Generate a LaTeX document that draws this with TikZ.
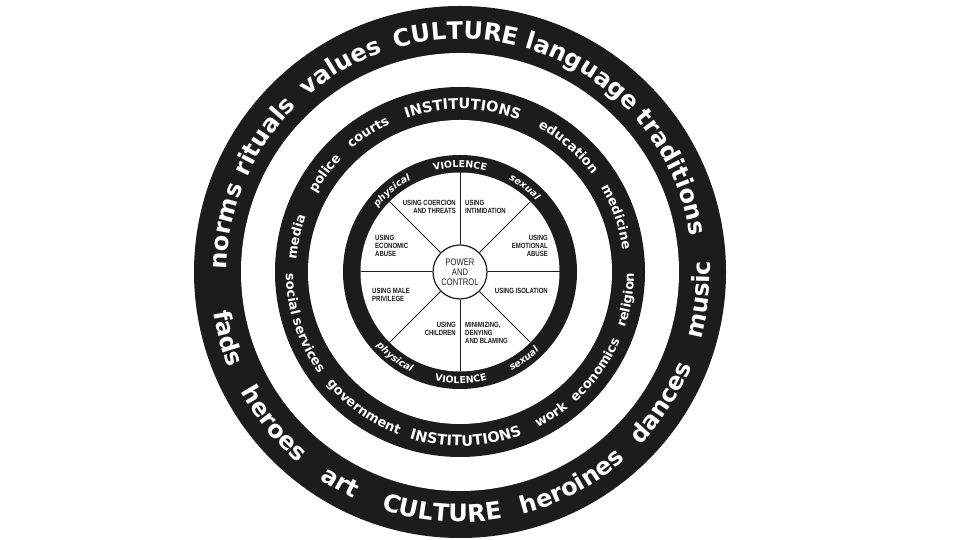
\documentclass[tikz,border=0pt]{standalone}
\usepackage{fontspec}
\setmainfont{DejaVu Sans}
\newfontfamily\labelfont[FakeStretch=0.8]{Liberation Sans}
\usetikzlibrary{decorations.text}
\definecolor{ringgray}{RGB}{28,28,28}

\newcommand\cultfont{\fontsize{24}{24}\selectfont\bfseries}
\newcommand\instfont{\fontsize{14.5}{14.5}\selectfont\bfseries}
\newcommand\orgfont{\fontsize{13}{13}\selectfont\bfseries}
\newcommand\violfont{\fontsize{9.5}{9.5}\selectfont\bfseries}
\newcommand\kindfont{\fontsize{9.5}{9.5}\selectfont\bfseries\itshape}

\newcommand\cwword[4]{\path[decorate,decoration={text along path,text align=center,text={|\color{white}#3|#4}}] (#2+50:#1pt) arc[start angle=#2+50,end angle=#2-50,radius=#1pt];}
\newcommand\ccwword[4]{\path[decorate,decoration={text along path,text align=center,text={|\color{white}#3|#4}}] (#2-50:#1pt) arc[start angle=#2-50,end angle=#2+50,radius=#1pt];}

\begin{document}
\begin{tikzpicture}[x=1pt, y=1pt,
  ring/.style={fill=ringgray},
  gap/.style={fill=white},
  spoke/.style={draw=ringgray, line width=1pt},
  hub/.style={circle, draw=ringgray, line width=1.2pt, fill=white, minimum size=54pt, inner sep=0pt, align=center, text=ringgray, font=\labelfont\fontsize{9.5}{10}\selectfont},
  tactic/.style={inner sep=0pt, text=ringgray, font=\labelfont\bfseries\fontsize{7.5}{8}\selectfont}]
\useasboundingbox [fill=white] (0,0) rectangle (960,540);

\begin{scope}[shift={(460,268)}]
\fill [ring] (0,0) circle [radius=266];
\fill [gap] (0,0) circle [radius=219];
\fill [ring] (0,0) circle [radius=185];
\fill [gap] (0,0) circle [radius=152];
\fill [ring] (0,0) circle [radius=117];
\fill [gap] (0,0) circle [radius=99.5];

\node [hub] (pc) at (0,0) {POWER\\AND\\CONTROL};
\foreach \a in {0,45,...,315}
  \draw [spoke] (pc.\a) -- (\a:99.5);

\node [tactic, anchor=east, align=right] (coercion) at (-4,65) {USING COERCION\\AND THREATS};
\node [tactic, anchor=west, align=left] (intimidation) at (5,65) {USING\\INTIMIDATION};
\node [tactic, anchor=east, align=right] (emotional) at (88,26) {USING\\EMOTIONAL\\ABUSE};
\node [tactic, anchor=west, align=left] (economic) at (-85,26) {USING\\ECONOMIC\\ABUSE};
\node [tactic, anchor=east] (isolation) at (88,-19) {USING ISOLATION};
\node [tactic, anchor=west, align=left] (privilege) at (-88,-23) {USING MALE\\PRIVILEGE};
\node [tactic, anchor=east, align=right] (children) at (-4,-57) {USING\\CHILDREN};
\node [tactic, anchor=west, align=left] (minimizing) at (5,-61) {MINIMIZING,\\DENYING\\AND BLAMING};

\cwword{104.5}{130}{\kindfont}{physical}
\cwword{104.5}{90}{\violfont}{VIOLENCE}
\cwword{104.5}{52.7}{\kindfont}{sexual}
\ccwword{111.5}{232.7}{\kindfont}{physical}
\ccwword{111.5}{270.5}{\violfont}{VIOLENCE}
\ccwword{111.5}{306.4}{\kindfont}{sexual}

\cwword{164}{167.8}{\orgfont}{media}
\cwword{164}{143.9}{\orgfont}{police}
\cwword{164}{123.3}{\orgfont}{courts}
\cwword{163}{89}{\instfont}{INSTITUTIONS}
\cwword{164}{49}{\orgfont}{education}
\cwword{164}{19.3}{\orgfont}{medicine}
\ccwword{174}{198.2}{\orgfont}{social services}
\ccwword{174}{234.6}{\orgfont}{government}
\ccwword{174}{272}{\instfont}{INSTITUTIONS}
\ccwword{174}{302.5}{\orgfont}{work}
\ccwword{174}{324.2}{\orgfont}{economics}
\ccwword{174}{350.5}{\orgfont}{religion}

\cwword{233}{168.9}{\cultfont}{norms}
\cwword{233}{145.3}{\cultfont}{rituals}
\cwword{233}{120.2}{\cultfont}{values}
\cwword{233}{91}{\cultfont}{CULTURE}
\cwword{233}{58.6}{\cultfont}{language}
\cwword{233}{25.1}{\cultfont}{traditions}
\ccwword{250}{195.9}{\cultfont}{fads}
\ccwword{250}{219.2}{\cultfont}{heroes}
\ccwword{250}{240.4}{\cultfont}{art}
\ccwword{250}{265.7}{\cultfont}{CULTURE}
\ccwword{250}{298}{\cultfont}{heroines}
\ccwword{250}{327}{\cultfont}{dances}
\ccwword{250}{353.5}{\cultfont}{music}
\end{scope}
\end{tikzpicture}
\end{document}
